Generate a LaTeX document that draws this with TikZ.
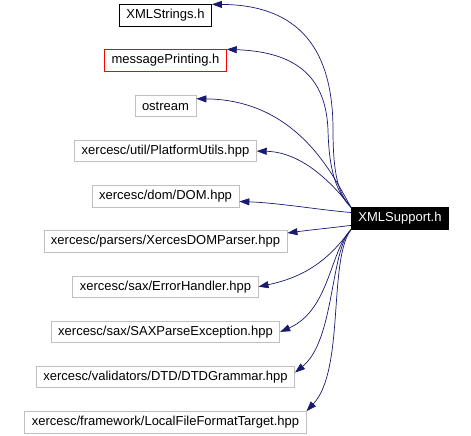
\documentclass[tikz,border=0pt]{standalone}
\usepackage{fontspec}
\setmainfont{Liberation Sans}
\usetikzlibrary{arrows.meta}
\definecolor{navy}{HTML}{191970}
\definecolor{boxgray}{HTML}{BFBFBF}

\begin{document}
\begin{tikzpicture}[x=1pt,y=-1pt,
    file/.style={draw=boxgray,line width=0.8pt,inner xsep=7pt,inner ysep=0pt,minimum height=21.5pt,font=\fontsize{13}{15}\selectfont},
    inc/.style={navy,line width=0.7pt,-{Triangle[length=10pt,width=7pt]}}]
    \useasboundingbox (0,0) rectangle (471,436);
    \def\hs{ostream,xercesc/util/PlatformUtils.hpp,xercesc/dom/DOM.hpp,xercesc/parsers/XercesDOMParser.hpp,xercesc/sax/ErrorHandler.hpp,xercesc/sax/SAXParseException.hpp,xercesc/validators/DTD/DTDGrammar.hpp,xercesc/framework/LocalFileFormatTarget.hpp}
    \node[file,draw=black] (f1) at (165.5,15.5) {XMLStrings.h};
    \node[file,draw=red] (f2) at (165.5,60.5) {messagePrinting.h};
    \foreach \h [count=\i from 3] in \hs {\node[file] (f\i) at (165.5,15.5+45.2*\i-45.2) {\h};}
    \node[file,draw=black,fill=black,text=white] (sup) at (400,218.5) {XMLSupport.h};
    % includes, top to bottom
    \draw[inc] (sup.north west) .. controls (340,195) and (333,180) .. (333,130) .. controls (333,50) and (300,5) .. (f1.north east);
    \draw[inc] (sup.north west) .. controls (336,192) and (329,170) .. (328,130) .. controls (326,80) and (300,52) .. (f2.north east);
    \draw[inc] (sup.north west) .. controls (335,180) and (300,100) .. (f3.13);
    \draw[inc] (sup.north west) .. controls (330,180) and (300,152) .. (f4.east);
    \draw[inc] (sup.173) .. controls (320,210) and (280,203) .. (f5.-4);
    \draw[inc] (sup.-172) .. controls (330,228) and (310,230) .. (f6.4);
    \draw[inc] (sup.south west) .. controls (335,250) and (315,275) .. (f7.east);
    \draw[inc] (sup.south west) .. controls (330,250) and (330,310) .. (f8.east);
    \draw[inc] (sup.south west) .. controls (330,250) and (335,340) .. (f9.2);
    \draw[inc] (sup.south west) .. controls (328,260) and (345,370) .. (f10.north east);
\end{tikzpicture}
\end{document}
